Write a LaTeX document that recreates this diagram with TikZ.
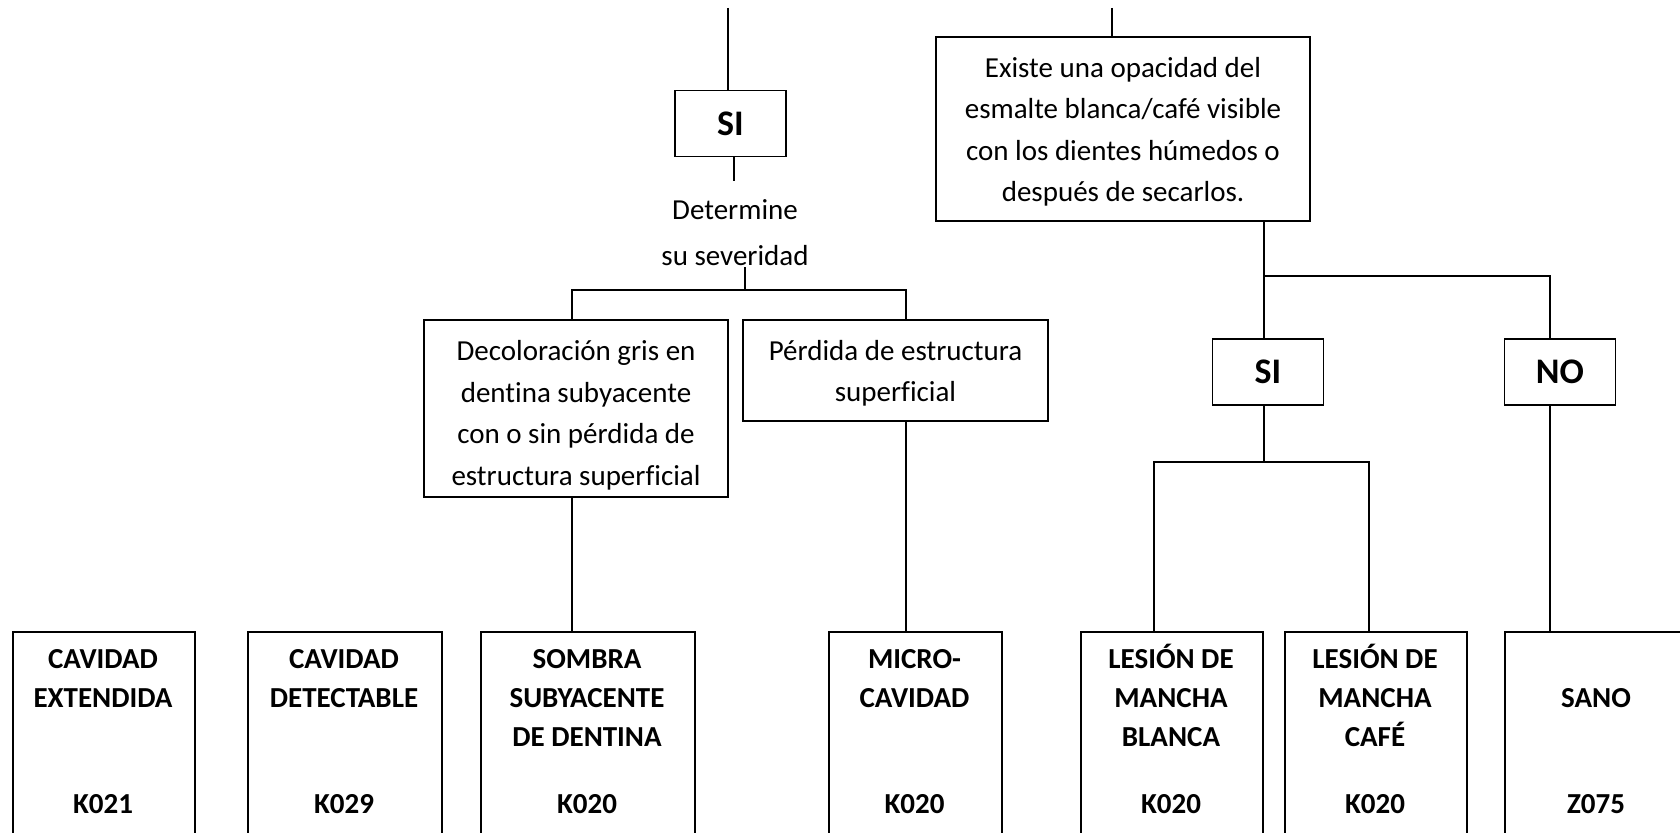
\documentclass[tikz,border=0pt]{standalone}
\usepackage{fontspec}
\setmainfont{Carlito}[Ligatures=NoCommon]
\begin{document}
\begin{tikzpicture}[x=1pt,y=-1pt,
  box/.style={draw, line width=1.8pt, inner sep=0pt},
  btext/.style={inner sep=0pt, align=center, font=\fontsize{29}{41.5}\selectfont},
  ans/.style={draw, line width=1.8pt, inner sep=0pt, minimum width=111pt, minimum height=66pt, font=\bfseries\fontsize{36}{40}\selectfont},
  leaf/.style={draw, line width=1.8pt, inner sep=0pt, anchor=north west, minimum height=260pt},
  ltext/.style={inner sep=0pt, align=center, anchor=north, font=\bfseries\fontsize{29}{39}\selectfont},
  code/.style={inner sep=0pt, anchor=base, font=\bfseries\fontsize{29}{39}\selectfont},
  plain/.style={inner sep=0pt, align=center, font=\fontsize{29}{46}\selectfont},
  conn/.style={line width=1.6pt}]
\useasboundingbox (0,0) rectangle (1680,832);
\clip (0,0) rectangle (1680,832);

% upper nodes
\node[ans] (si1) at (730.5,123.5) {SI};
\node[plain, anchor=north] (det) at (735,187) {\strut Determine\\su severidad};
\node[box, minimum width=304pt, minimum height=177pt] (deco) at (576,408.5) {};
\node[btext] (decot) at ([yshift=-7pt]deco.center)
  {Decoloración gris en\\dentina subyacente\\con o sin pérdida de\\estructura superficial};
\node[box, minimum width=305pt, minimum height=101pt] (perd) at (895.5,370.5) {};
\node[btext] (perdt) at ([yshift=-3pt]perd.center) {Pérdida de estructura\\superficial};
\node[box, minimum width=374pt, minimum height=184pt] (ex) at (1123,129) {};
\node[btext] (ext) at ([yshift=-3pt]ex.center)
  {Existe una opacidad del\\esmalte blanca/café visible\\con los dientes húmedos o\\después de secarlos.};
\node[ans] (si2) at (1268,372) {SI};
\node[ans] (no) at (1560,372) {NO};

% bottom boxes
\node[leaf, minimum width=182pt] (b1) at (12,631) {};
\node[leaf, minimum width=194pt] (b2) at (247,631) {};
\node[leaf, minimum width=214pt] (b3) at (480,631) {};
\node[leaf, minimum width=173pt] (b4) at (828,631) {};
\node[leaf, minimum width=182pt] (b5) at (1080,631) {};
\node[leaf, minimum width=182pt] (b6) at (1284,631) {};
\node[leaf, minimum width=184pt] (b7) at (1504,631) {};

\node[ltext] (t1) at (103,641) {\strut CAVIDAD\\EXTENDIDA};
\node[ltext] (t2) at (344,641) {\strut CAVIDAD\\DETECTABLE};
\node[ltext] (t3) at (587,641) {\strut SOMBRA\\SUBYACENTE\\DE DENTINA};
\node[ltext] (t4) at (914.5,641) {\strut MICRO-\\CAVIDAD};
\node[ltext] (t5) at (1171,641) {\strut LESIÓN DE\\MANCHA\\BLANCA};
\node[ltext] (t6) at (1375,641) {\strut LESIÓN DE\\MANCHA\\CAFÉ};
\node[code] (t7) at (1596,707) {SANO};

\node[code] (c1) at (103,813) {K021};
\node[code] (c2) at (344,813) {K029};
\node[code] (c3) at (587,813) {K020};
\node[code] (c4) at (914.5,813) {K020};
\node[code] (c5) at (1171,813) {K020};
\node[code] (c6) at (1375,813) {K020};
\node[code] (c7) at (1596,813) {Z075};

% free ends
\coordinate (topL) at (728,8);
\coordinate (topR) at (1112,8);
\coordinate (detTop) at (734,181);
\coordinate (sevB) at (745,267);
\coordinate (fork1) at (745,290);

% connectors
\draw[conn] (topL) -- (topL |- si1.north);
\draw[conn] (si1.south -| detTop) -- (detTop);
\draw[conn] (sevB) -- (fork1);
\draw[conn] ([xshift=-4pt]deco.north) -- ([xshift=-4pt]deco.north |- fork1) -| ([xshift=10.5pt]perd.north);
\draw[conn] ([xshift=-4pt]deco.south) -- ([xshift=-4pt]deco.south |- b3.north);
\draw[conn] ([xshift=10.5pt]perd.south) -- ([xshift=10.5pt]perd.south |- b4.north);

\draw[conn] (topR) -- (topR |- ex.north);
\draw[conn] ([xshift=-4pt]si2.north |- ex.south) -- ([xshift=-4pt]si2.north);
\draw[conn] ([xshift=-4pt,yshift=62pt]si2.north) -| ([xshift=-10pt]no.north);
\draw[conn] ([xshift=-4pt]si2.south) -- ([xshift=-4pt,yshift=-56pt]si2.south) coordinate (fork2);
\draw[conn] ([xshift=-18pt]b5.north) |- (fork2) -| ([xshift=-7pt]b6.north);
\draw[conn] ([xshift=-10pt]no.south) -- ([xshift=-10pt]no.south |- b7.north);
\end{tikzpicture}
\end{document}
